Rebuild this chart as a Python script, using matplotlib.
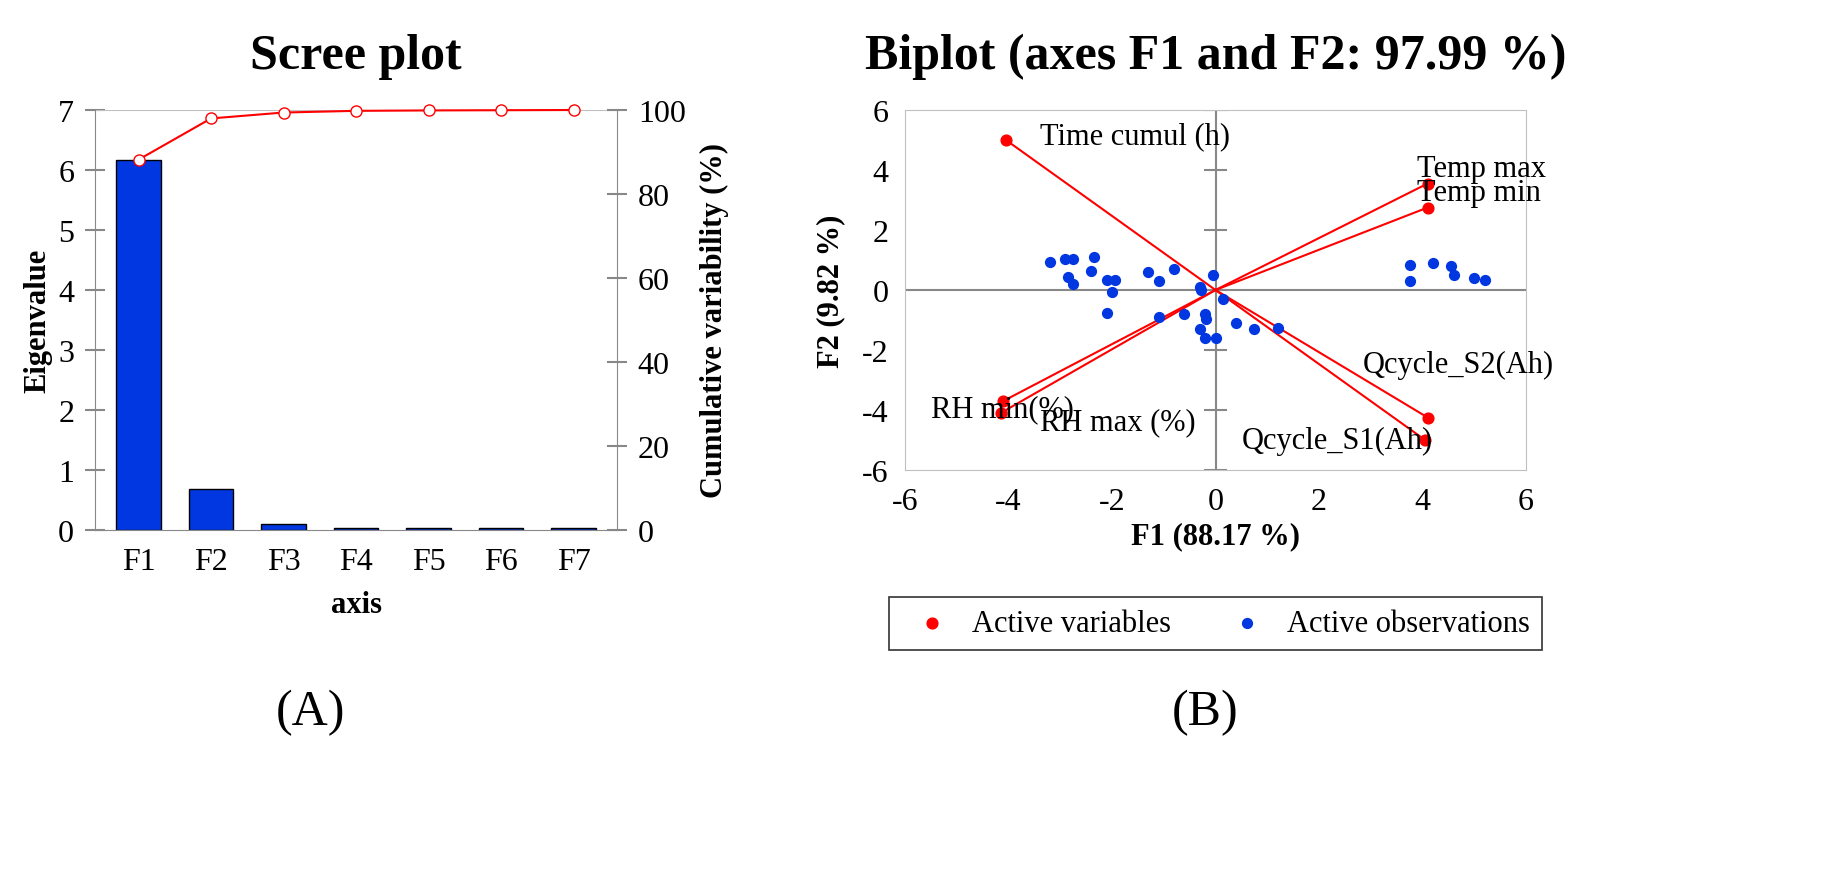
import matplotlib.pyplot as plt
import numpy as np

plt.rcParams['font.family'] = 'Liberation Serif'
plt.rcParams['axes.unicode_minus'] = False

# Scree data
axes_names = ['F1', 'F2', 'F3', 'F4', 'F5', 'F6', 'F7']
eigenvalues = [6.17, 0.69, 0.10, 0.03, 0.04, 0.03, 0.03]
cumulative = [88.17, 97.99, 99.4, 99.8, 99.9, 99.95, 100.0]

# Biplot variables
var_names = ['Time cumul (h)', 'Temp max', 'Temp min', 'RH min(%)', 'RH max (%)',
             'Qcycle_S2(Ah)', 'Qcycle_S1(Ah)']
var_x = [-4.05, 4.1, 4.1, -4.1, -4.15, 4.1, 4.05]
var_y = [5.0, 3.55, 2.75, -3.7, -4.1, -4.25, -5.0]
label_x = [-3.4, 3.9, 3.9, -5.5, -3.4, 2.85, 0.5]
label_y = [4.9, 3.8, 3.0, -4.2, -4.65, -2.75, -5.25]

# Observations
obs_x = [-3.2, -2.9, -2.75, -2.35, -2.85, -2.75, -2.4, -2.1, -1.95, -2.0, -2.1,
         -1.3, -1.1, -0.8, -0.3, -0.28, -0.05, 0.15, -1.1, -0.6, -0.2, -0.18,
         -0.3, -0.2, 0.0, 0.4, 0.75, 1.2,
         3.75, 3.75, 4.2, 4.55, 4.6, 5.0, 5.2]
obs_y = [0.95, 1.05, 1.05, 1.1, 0.45, 0.2, 0.65, 0.35, 0.35, -0.05, -0.75,
         0.6, 0.3, 0.7, 0.1, 0.0, 0.5, -0.3, -0.9, -0.8, -0.8, -0.95,
         -1.3, -1.6, -1.6, -1.1, -1.3, -1.25,
         0.85, 0.3, 0.9, 0.8, 0.5, 0.4, 0.35]

fig = plt.figure(figsize=(18.27, 8.79), dpi=100)
grey = '#888888'

# ---- Scree plot ----
ax = fig.add_axes([95 / 1827, 1 - 531 / 879, 522 / 1827, 420 / 879])
x = np.arange(len(axes_names))
ax.bar(x, eigenvalues, width=0.62, color='#0037e0', edgecolor='black', linewidth=1)
ax.set_ylim(0, 7)
ax.set_yticks(range(0, 8))
ax.set_xlim(-0.6, 6.6)
ax.set_xticks(x)
ax.set_xticklabels(axes_names)
ax.set_ylabel('Eigenvalue', fontsize=22, fontweight='bold')
ax.set_xlabel('axis', fontsize=22, fontweight='bold', labelpad=10)
ax.set_title('Scree plot', fontsize=36, fontweight='bold', pad=30)
ax.axhline(7, color='#c0c0c0', lw=1.5)
ax2 = ax.twinx()
ax2.plot(x, cumulative, color='red', marker='o', mfc='white', mec='red', ms=8, lw=1.5,
         clip_on=False, zorder=5)
ax2.set_ylim(0, 100)
ax2.set_yticks(range(0, 101, 20))
ax2.set_ylabel('Cumulative variability (%)', fontsize=22, fontweight='bold', labelpad=10)
for a in (ax, ax2):
    for s in a.spines.values():
        s.set_visible(False)
    a.tick_params(labelsize=23, color=grey, length=14, width=1.5, direction='inout', pad=8)
ax.spines['left'].set_visible(True)
ax.spines['left'].set_color(grey)
ax.spines['bottom'].set_visible(True)
ax.spines['bottom'].set_color(grey)
ax2.spines['right'].set_visible(True)
ax2.spines['right'].set_color(grey)
ax.tick_params(axis='x', length=0, pad=12)
fig.text(310 / 1827, 1 - 725 / 879, '(A)', fontsize=36, ha='center')

# ---- Biplot ----
bx = fig.add_axes([905 / 1827, 1 - 471 / 879, 621 / 1827, 360 / 879])
bx.set_xlim(-6, 6)
bx.set_ylim(-6, 6)
bx.axhline(0, color=grey, lw=1.5)
bx.axvline(0, color=grey, lw=1.5)
for t in range(-6, 7, 2):
    bx.plot([-0.2, 0.2], [t, t], color=grey, lw=1.5)
for vx, vy in zip(var_x, var_y):
    bx.plot([0, vx], [0, vy], color='red', lw=1.5)
bx.scatter(var_x, var_y, color='red', s=60, zorder=3, label='Active variables')
bx.scatter(obs_x, obs_y, color='#0037e0', s=50, zorder=3, label='Active observations')
for n, lx, ly in zip(var_names, label_x, label_y):
    bx.text(lx, ly, n, fontsize=22)
for s in bx.spines.values():
    s.set_color('#c0c0c0')
bx.set_xticks(range(-6, 7, 2))
bx.set_yticks(range(-6, 7, 2))
bx.tick_params(labelsize=23, length=0, pad=12)
bx.set_xlabel('F1 (88.17 %)', fontsize=22, fontweight='bold')
bx.set_ylabel('F2 (9.82 %)', fontsize=22, fontweight='bold', labelpad=12)
bx.set_title('Biplot (axes F1 and F2: 97.99 %)', fontsize=36, fontweight='bold', pad=30)
leg = bx.legend(loc='upper center', bbox_to_anchor=(0.5, -0.31), ncol=2, fontsize=22,
                fancybox=False, edgecolor='black', handletextpad=0.3, columnspacing=1.5)
leg.get_frame().set_linewidth(1.2)
fig.text(1205 / 1827, 1 - 725 / 879, '(B)', fontsize=36, ha='center')

fig.savefig('out.png')
